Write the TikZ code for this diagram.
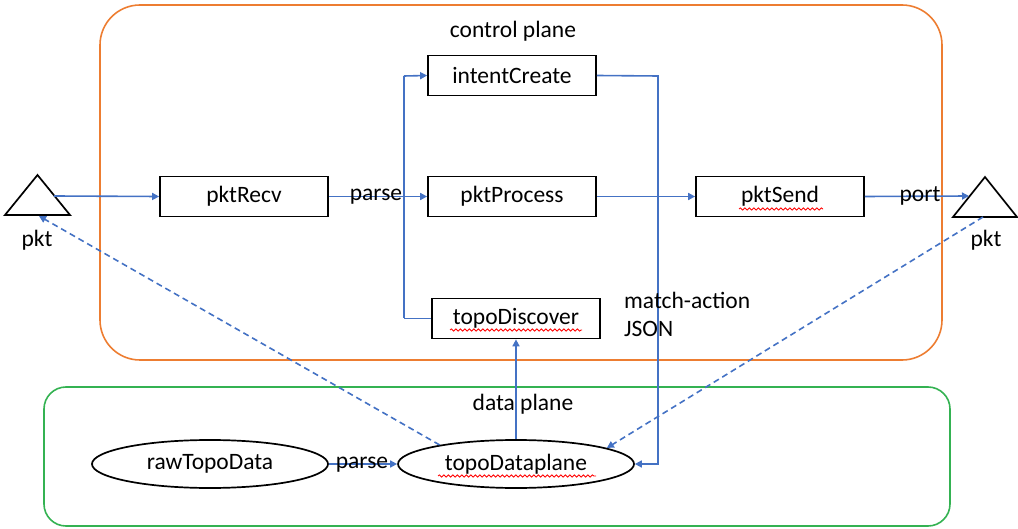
\documentclass[tikz,border=0pt]{standalone}
\usepackage{fontspec}
\setmainfont{Carlito}
\usetikzlibrary{arrows.meta,decorations.pathmorphing,shapes.geometric}
\definecolor{cblue}{RGB}{68,114,196}
\definecolor{corange}{RGB}{237,125,49}
\definecolor{cgreen}{RGB}{52,178,82}
\begin{document}
\begin{tikzpicture}[x=1pt,y=-1pt,
  font=\fontsize{23.5}{28}\selectfont,
  plane/.style={line width=1.6pt,inner sep=0pt},
  box/.style={draw=black,line width=1.7pt,minimum width=168pt,minimum height=40pt,inner sep=0pt},
  oval/.style={draw=black,ellipse,line width=1.7pt,minimum width=236pt,minimum height=48pt,inner sep=0pt},
  link/.style={draw=cblue,line width=1.6pt},
  conn/.style={link,-{Triangle[length=7pt,width=7pt]}},
  dashconn/.style={conn,dash pattern=on 6pt off 4pt},
  tri/.style={draw=black,line width=1.7pt,line join=miter},
  lbl/.style={inner sep=0pt},
  squiggle/.style={draw=red,line width=0.8pt,decorate,decoration={snake,amplitude=1.1pt,segment length=4.5pt}}]
\path[use as bounding box] (0,0) rectangle (1018,529);

% planes
\node[plane,draw=corange,rounded corners=40pt,minimum width=842pt,minimum height=355pt] (cp) at (521,182.5) {};
\node[plane,draw=cgreen,rounded corners=22pt,minimum width=906pt,minimum height=139pt] (dp) at (497,456.5) {};
\node[lbl] (cptitle) at (513,31) {control plane};
\node[lbl] (dptitle) at (523,404) {data plane};

% packet triangles
\draw[tri] (5,215) -- (37.5,175) -- (70,215) -- cycle;
\draw[tri] (953,217) -- (985,177) -- (1017,217) -- cycle;
\coordinate (inL) at (54,196);
\coordinate (baseL) at (39,216);
\coordinate (inR) at (969,196);
\coordinate (baseR) at (983,217);
\node[lbl,anchor=base] (pktL) at (37,247) {pkt};
\node[lbl,anchor=base] (pktR) at (986,247) {pkt};

% control plane functions
\node[box] (recv) at (244,196.5) {pktRecv};
\node[box] (proc) at (512,196.5) {pktProcess};
\node[box] (intent) at (512,75.5) {intentCreate};
\node[box] (topo) at (516,318.5) {topoDiscover};
\node[box] (send) at (780,196.5) {pktSend};

% data plane objects
\node[oval] (raw) at (210,464) {rawTopoData};
\node[oval] (tdp) at (516,464) {topoDataplane};

% bus from pktRecv
\coordinate (busTop) at (404,76);
\coordinate (busMid) at (404,196.5);
\coordinate (busBot) at (404,318.5);
\draw[link] (recv.east) -- (busMid);
\draw[link] (busTop) -- (busBot);
\draw[conn] (busTop) -- (intent.west);
\draw[conn] (busMid) -- (proc.west);
\draw[link] (busBot) -- (topo.west);
\node[lbl,anchor=base] (parse1) at (376,201) {parse};

% main packet path
\draw[conn] (inL) -- (recv.west);
\draw[conn] (proc.east) -- (send.west);
\draw[conn] (send.east) -- (inR);
\node[lbl,anchor=base] (port) at (920,202) {port};

% rule installation path
\coordinate (ruleTop) at (658,76);
\coordinate (ruleBot) at (658,464);
\draw[conn] (intent.east) -- (ruleTop) -- (ruleBot) -- (tdp.east);
\node[lbl,align=left,anchor=west] (rules) at (624,314) {match-action\\JSON};

% data plane connectors
\draw[conn] (tdp.north) -- (topo.south);
\draw[conn] (raw.east) -- (tdp.west);
\node[lbl,anchor=base] (parse2) at (362,468) {parse};
\draw[dashconn] (tdp.166) -- (baseL);
\draw[dashconn] (baseR) -- (tdp.10);

% spelling marks under identifiers
\draw[squiggle] (739,209) -- (823,209);
\draw[squiggle] (450,330) -- (582,330);
\draw[squiggle] (438,476) -- (596,476);
\end{tikzpicture}
\end{document}
